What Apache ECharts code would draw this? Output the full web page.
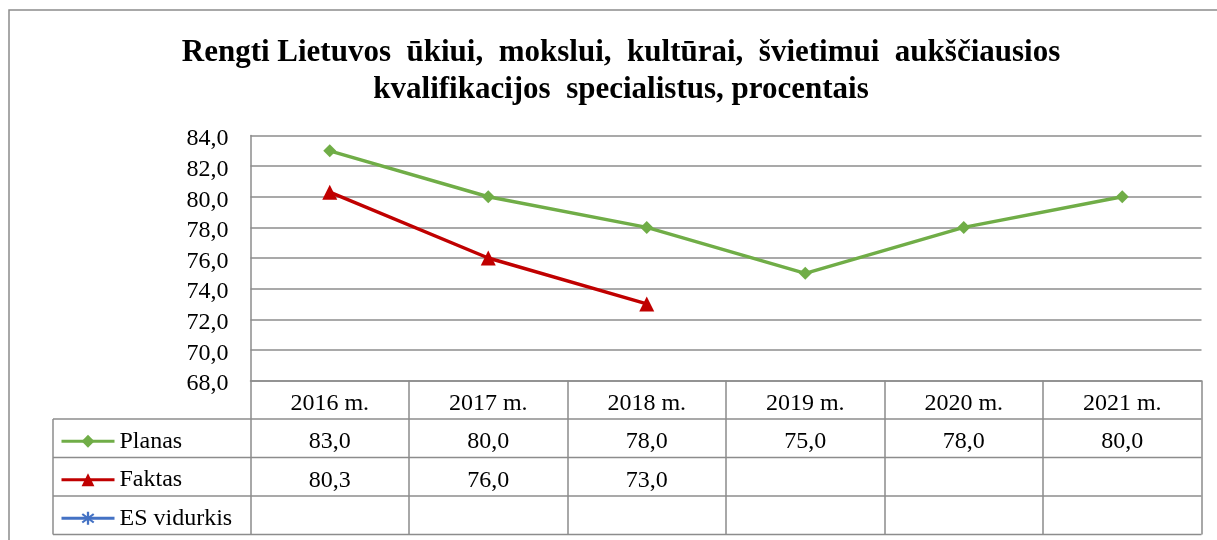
<!DOCTYPE html>
<html>
<head>
<meta charset="utf-8">
<title>Rengti Lietuvos ūkiui specialistus</title>
<script src="https://cdn.jsdelivr.net/npm/echarts@6/dist/echarts.min.js"></script>
<style>
  html, body { margin: 0; padding: 0; background: #fff; }
  #chart { width: 1217px; height: 540px; }
</style>
</head>
<body>
<div id="chart"></div>
<script>
// duomenys
const years = ['2016 m.', '2017 m.', '2018 m.', '2019 m.', '2020 m.', '2021 m.']
const planas = [83.0, 80.0, 78.0, 75.0, 78.0, 80.0]
const faktas = [80.3, 76.0, 73.0, null, null, null]
const esVidurkis = [null, null, null, null, null, null]
const seriesNames = ['Planas', 'Faktas', 'ES vidurkis']
const yTicks = [68, 70, 72, 74, 76, 78, 80, 82, 84]

const FONT = 'Liberation Serif'
const GRAY = '#8c8c8c'
const fmt = v => (v === null || v === undefined) ? '' : v.toFixed(1).replace('.', ',')

// plot area / table geometry
const gridLeft = 250.5
const gridRight = 1201.5
const gridTop = 135.5
const gridBottomY = 380.5
const rowH = 38.5
const tableLeft = 53

const asterisk = 'path://M-1,-6L1,-6L1,6L-1,6Z' +
  'M-4.4,-4.8L5.6,3.2L4.4,4.8L-5.6,-3.2Z' +
  'M4.4,-4.8L5.6,-3.2L-4.4,4.8L-5.6,3.2Z'

const labelStyle = {
  fontFamily: FONT,
  fontSize: 24,
  color: '#000'
}

// pavadinimas + lenteles linijos
const graphics = [{
  type: 'text',
  x: 621,
  y: 34,
  style: {
    text: 'Rengti Lietuvos  ūkiui,  mokslui,  kultūrai,  švietimui  aukščiausios\nkvalifikacijos  specialistus, procentais',
    fontFamily: FONT,
    fontSize: 31,
    fontWeight: 'bold',
    lineHeight: 37,
    fill: '#000',
    align: 'center',
    verticalAlign: 'top'
  }
}]
for (let i = 1; i <= 4; i++) {
  const y = gridBottomY + rowH * i
  graphics.push({
    type: 'line',
    shape: { x1: tableLeft, y1: y, x2: gridRight, y2: y },
    style: { stroke: GRAY, lineWidth: 1.5 }
  })
}
graphics.push({
  type: 'line',
  shape: { x1: tableLeft, y1: gridBottomY + rowH, x2: tableLeft, y2: gridBottomY + rowH * 4 },
  style: { stroke: GRAY, lineWidth: 1.5 }
})
// isorinis remelis
graphics.push({
  type: 'rect',
  shape: { x: 9, y: 10, width: 1230, height: 560 },
  style: { fill: null, stroke: GRAY, lineWidth: 1.5 },
  silent: true
})

const cellLabel = Object.assign({ interval: 0, margin: rowH / 2 + 3.5, verticalAlign: 'middle' }, labelStyle)

const valueAxis = (data, offset) => ({
  type: 'category',
  data: data.map(fmt),
  position: 'bottom',
  offset: offset,
  boundaryGap: true,
  axisLine: { show: false },
  axisTick: { show: false },
  axisLabel: cellLabel
})

// viena legenda kiekvienai lenteles eilutei
const legends = seriesNames.map((name, i) => ({
  orient: 'vertical',
  left: 60,
  top: gridBottomY + rowH * (i + 1) + rowH / 2 - 9,
  padding: 0,
  itemWidth: 53,
  itemHeight: 16,
  lineStyle: { width: 3 },
  textStyle: Object.assign({ lineHeight: 22 }, labelStyle),
  data: [name]
}))

const option = {
  animation: false,
  backgroundColor: '#fff',
  legend: legends,
  grid: {
    left: gridLeft,
    right: 1217 - gridRight,
    top: gridTop,
    bottom: 540 - gridBottomY,
    containLabel: false,
    outerBoundsMode: 'none'
  },
  xAxis: [
    {
      type: 'category',
      data: years,
      position: 'bottom',
      boundaryGap: true,
      axisLine: { show: true, lineStyle: { color: GRAY, width: 1.5 } },
      axisTick: { show: true, length: rowH * 4, lineStyle: { color: GRAY, width: 1.5 } },
      axisLabel: cellLabel
    },
    valueAxis(planas, rowH),
    valueAxis(faktas, rowH * 2)
  ],
  yAxis: {
    type: 'value',
    min: yTicks[0],
    max: yTicks[yTicks.length - 1],
    interval: 2,
    axisLine: { show: true, lineStyle: { color: GRAY, width: 1.5 } },
    axisTick: { show: false },
    splitLine: { show: true, lineStyle: { color: GRAY, width: 1.5 } },
    axisLabel: {
      margin: 22,
      formatter: v => '{v|' + fmt(v) + '}',
      rich: {
        v: Object.assign({ padding: [7, 0, 0, 0] }, labelStyle)
      }
    }
  },
  series: [
    {
      name: 'Planas',
      type: 'line',
      data: planas,
      symbol: 'diamond',
      symbolSize: 13,
      lineStyle: { color: '#70AD47', width: 3.5 },
      itemStyle: { color: '#70AD47' }
    },
    {
      name: 'Faktas',
      type: 'line',
      data: faktas,
      symbol: 'triangle',
      symbolSize: 15,
      lineStyle: { color: '#C00000', width: 3.5 },
      itemStyle: { color: '#C00000' }
    },
    {
      name: 'ES vidurkis',
      type: 'line',
      data: esVidurkis,
      symbol: asterisk,
      symbolSize: 12,
      lineStyle: { color: '#4472C4', width: 3.5 },
      itemStyle: { color: '#4472C4' }
    }
  ],
  graphic: graphics
}

const chart = echarts.init(document.getElementById('chart'))
chart.setOption(option)
</script>
</body>
</html>
